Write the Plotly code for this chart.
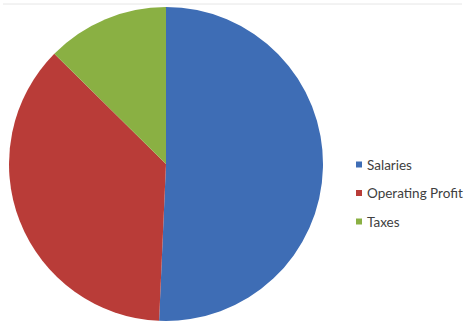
import plotly.graph_objects as go

labels = ["Salaries", "Operating Profit", "Taxes"]
values = [50.7, 36.7, 12.6]
colors = ["#3E6DB5", "#B93C38", "#8AB043"]

W, H = 468, 325

fig = go.Figure(go.Pie(
    labels=labels,
    values=values,
    sort=False,
    direction="clockwise",
    rotation=0,
    textinfo="none",
    hoverinfo="label+percent",
    showlegend=False,
    marker=dict(colors=colors, line=dict(width=0)),
    domain=dict(x=[9/W, 323/W], y=[1-321/H, 1-7/H]),
))

# legend drawn as swatches + text (Excel-style spacing)
leg_x = 356
leg_y0 = 164.5
leg_dy = 28.5
sw = 6
shapes = [dict(type="line", xref="paper", yref="paper",
               x0=3/W, x1=462/W, y0=1-4/H, y1=1-4/H,
               line=dict(color="#E6E6E6", width=1))]
annotations = []
for i, (lab, col) in enumerate(zip(labels, colors)):
    cy = leg_y0 + i*leg_dy
    shapes.append(dict(type="rect", xref="paper", yref="paper",
                       x0=leg_x/W, x1=(leg_x+sw)/W,
                       y0=1-(cy+sw/2)/H, y1=1-(cy-sw/2)/H,
                       fillcolor=col, line=dict(width=0)))
    annotations.append(dict(xref="paper", yref="paper",
                            x=(leg_x+sw+3)/W, y=1-cy/H,
                            xanchor="left", yanchor="middle",
                            text=lab, showarrow=False,
                            font=dict(family="Lato", size=13.5, color="#404040")))

fig.update_layout(
    width=W, height=H,
    margin=dict(l=0, r=0, t=0, b=0, autoexpand=False),
    paper_bgcolor="white",
    showlegend=False,
    shapes=shapes,
    annotations=annotations,
)

fig.write_html("out.html")
